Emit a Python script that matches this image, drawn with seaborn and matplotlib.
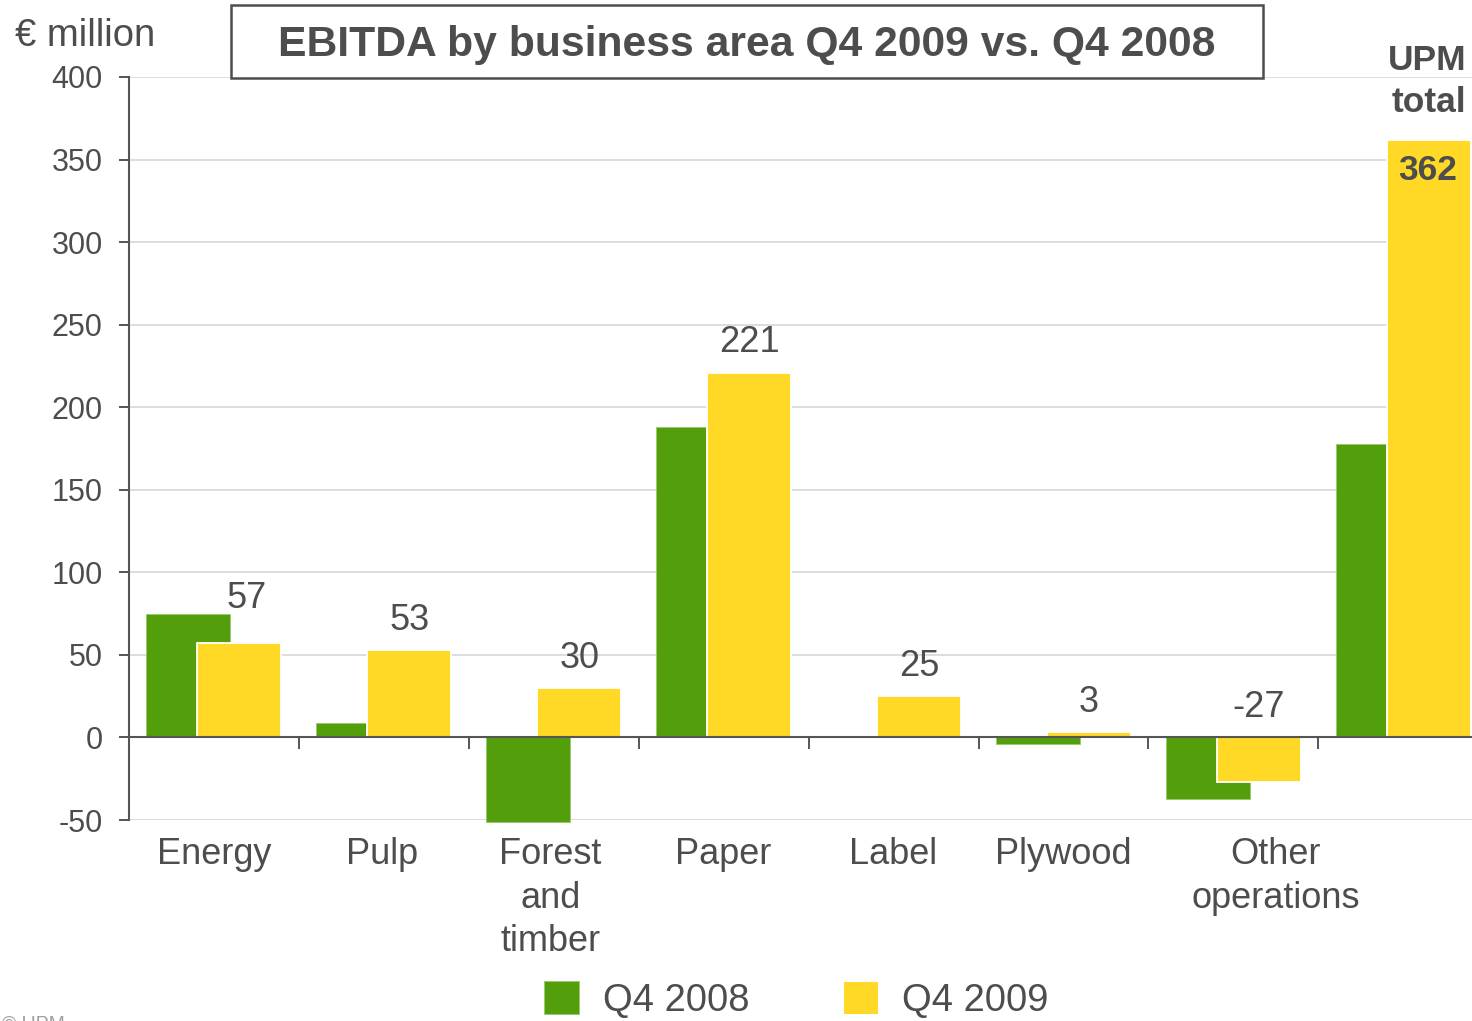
import numpy as np
import pandas as pd
import matplotlib
matplotlib.use("Agg")
import matplotlib.pyplot as plt
from matplotlib.patches import Rectangle, Patch
from matplotlib import font_manager
import seaborn as sns

# EBITDA by business area, EUR million
categories = ["Energy", "Pulp", "Forest\nand\ntimber", "Paper", "Label",
              "Plywood", "Other\noperations", "UPM\ntotal"]
q4_2008 = [75, 9, -51, 188, 0, -4, -37, 178]
q4_2009 = [57, 53, 30, 221, 25, 3, -27, 362]
series_names = ["Q4 2008", "Q4 2009"]
y_ticks = [-50, 0, 50, 100, 150, 200, 250, 300, 350, 400]

GREEN = "#539E0B"
YELLOW = "#FFD926"
TEXT = "#4D4D4D"
AXIS = "#555555"
GRID = "#D3D3D3"

sns.set_theme(style="white")
plt.rcParams["font.family"] = ["Liberation Sans", "DejaVu Sans"]

try:
    font_manager.findfont("Liberation Sans Narrow", fallback_to_default=False)
    NARROW, LEG_SIZE = "Liberation Sans Narrow", 33
except Exception:
    NARROW, LEG_SIZE = "Liberation Sans", 27.5

W, H = 1472, 1021
fig = plt.figure(figsize=(W / 100, H / 100), dpi=100)

# axes placement (pixel geometry converted to figure fractions)
left_px, right_px, top_px, bottom_px = 129, 1472, 77, 820
ax = fig.add_axes([left_px / W, 1 - bottom_px / H,
                   (right_px - left_px) / W, (bottom_px - top_px) / H])

n = len(categories)
idx = np.arange(n)
shift = 0.15
df08 = pd.DataFrame({"pos": idx - shift, "value": q4_2008})
df09 = pd.DataFrame({"pos": idx + shift, "value": q4_2009})

sns.barplot(data=df08, x="pos", y="value", native_scale=True, width=0.494,
            color=GREEN, saturation=1, edgecolor="#9CC870", linewidth=0.7,
            ax=ax, zorder=2)
sns.barplot(data=df09, x="pos", y="value", native_scale=True, width=0.494,
            color=YELLOW, saturation=1, edgecolor="white", linewidth=1.3,
            ax=ax, zorder=3)
for p in ax.patches:
    p.set_clip_on(False)

x_right = -0.5 + (right_px - left_px) / 169.9
ax.set_xlim(-0.5, x_right)
ax.set_ylim(-50, 400)
ax.set_xlabel("")
ax.set_ylabel("")

# y axis
ax.set_yticks(y_ticks)
ax.set_yticklabels([str(v) for v in y_ticks])
ax.tick_params(axis="y", direction="out", length=7.5, width=1.4, color=AXIS,
               labelsize=22, labelcolor=TEXT, pad=11.5, left=True)
ax.yaxis.grid(True, color=GRID, linewidth=1.1)
ax.xaxis.grid(False)
ax.set_axisbelow(True)

# x axis: baseline at zero with ticks between categories
ax.spines["bottom"].set_position(("data", 0))
ax.set_xticks(np.arange(0.5, n - 0.5, 1))
ax.set_xticklabels([])
ax.tick_params(axis="x", direction="out", length=8.5, width=1.4, color=AXIS,
               bottom=True)
for side in ("top", "right"):
    ax.spines[side].set_visible(False)
for side in ("left", "bottom"):
    ax.spines[side].set_color(AXIS)
    ax.spines[side].set_linewidth(1.5)
    ax.spines[side].set_zorder(4)

# category names below the plot (the total is labelled at the top)
label_nudge = {"Other\noperations": 0.25, "Forest\nand\ntimber": -0.02,
               "Pulp": -0.01}
for i, name in enumerate(categories[:-1]):
    ax.annotate(name, xy=(i + label_nudge.get(name, 0), -50),
                xytext=(0, -12.5), textcoords="offset points",
                ha="center", va="top", fontsize=26, color=TEXT,
                multialignment="center", linespacing=1.31,
                annotation_clip=False)

# value labels for Q4 2009
for i in range(n - 1):
    yv = q4_2009[i]
    anchor = max(yv, 0)
    dx = 0
    if q4_2008[i] > yv:
        anchor = q4_2008[i] - 9
        dx = 5
    ax.annotate(str(yv), xy=(i + shift, anchor), xytext=(dx, 14.5),
                textcoords="offset points", ha="center", va="baseline",
                fontsize=26, color=TEXT, zorder=6)

# group total annotations
last = n - 1
ax.annotate(str(q4_2009[last]), xy=(last + shift, q4_2009[last]),
            xytext=(-1, -22), textcoords="offset points", ha="center",
            va="center", fontsize=25.5, fontweight="bold", color=TEXT,
            zorder=6, annotation_clip=False)
ax.annotate(categories[last], xy=(last + shift + 0.247, q4_2009[last]),
            xytext=(-3, 42), textcoords="offset points", ha="right",
            va="center", fontsize=25.5, fontweight="bold", color=TEXT,
            linespacing=1.36, zorder=6, annotation_clip=False)

# unit label
fig.text(15 / W, 1 - 36 / H, "€ million", ha="left", va="center",
         fontsize=27.5, color=TEXT)

# boxed title
box = Rectangle((231 / W, 1 - 78 / H), (1263 - 231) / W, (78 - 5) / H,
                transform=fig.transFigure, facecolor="white",
                edgecolor=TEXT, linewidth=1.8, zorder=2)
fig.patches.append(box)
fig.text(747 / W, 1 - 45 / H, "EBITDA by business area Q4 2009 vs. Q4 2008",
         ha="center", va="center", fontsize=30.7, fontweight="bold",
         color=TEXT, zorder=3)

# legend
fs_px = LEG_SIZE / 0.72
handles = [Patch(facecolor=GREEN, edgecolor="#9CC870", linewidth=0.7),
           Patch(facecolor=YELLOW, edgecolor="white", linewidth=0.7)]
leg = fig.legend(handles, series_names, loc="center",
                 bbox_to_anchor=(796 / W, 1 - 1000 / H),
                 ncol=2, frameon=False,
                 handlelength=35 / fs_px, handleheight=35 / fs_px,
                 handletextpad=24 / fs_px, columnspacing=93 / fs_px,
                 borderpad=0, prop={"family": NARROW, "size": LEG_SIZE})
for t in leg.get_texts():
    t.set_color(TEXT)

# copyright line at the foot
fig.text(2 / W, 1 - 1016 / H, "© UPM", ha="left", va="top", fontsize=14,
         color="#A0A0A0")

fig.savefig("out.png", dpi=100, facecolor="white")
